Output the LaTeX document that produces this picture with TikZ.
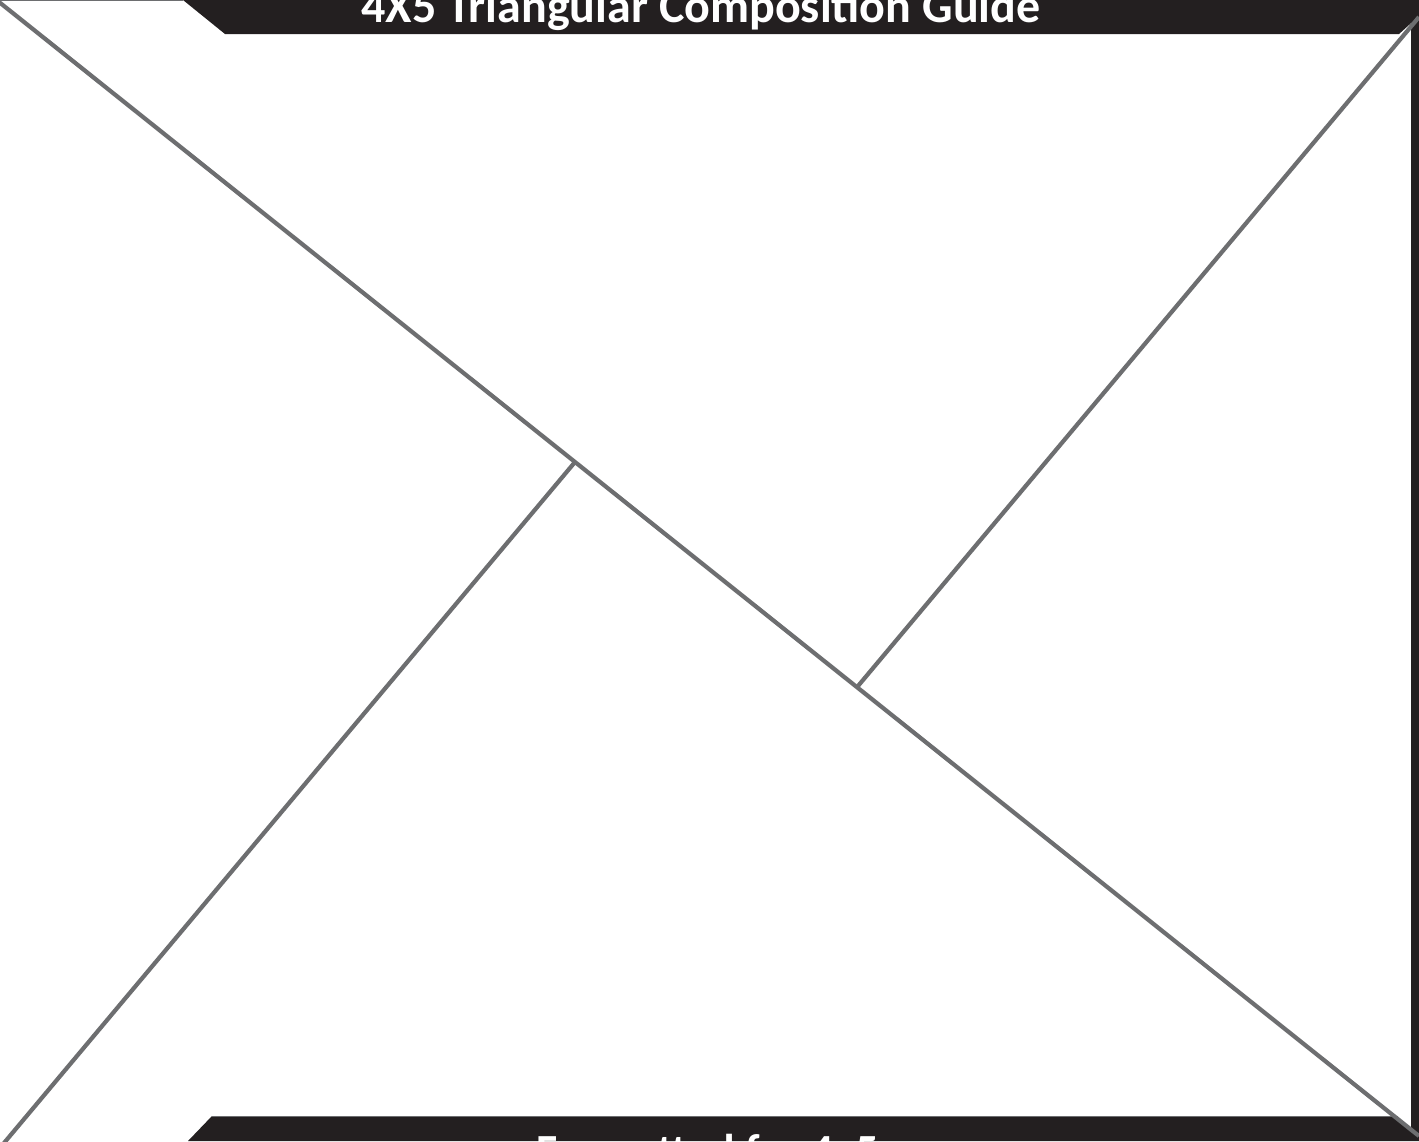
\documentclass[tikz,border=0pt]{standalone}
\usepackage{fontspec}
\setmainfont{Carlito}
\definecolor{bannerblack}{HTML}{231F20}
\definecolor{guidegray}{HTML}{6D6E70}
\begin{document}
\begin{tikzpicture}[x=1pt,y=-1pt,
  banner/.style={fill=bannerblack,draw=none},
  guide/.style={draw=guidegray,line width=4.2pt,line cap=butt},
  titletext/.style={text=white,font=\fontsize{48}{56}\selectfont\bfseries,inner sep=0pt},
  foottext/.style={text=white,font=\fontsize{46}{54}\selectfont\bfseries,inner sep=0pt}]
\useasboundingbox (0,0) rectangle (1419,1141);
\clip (0,0) rectangle (1419,1141);
\fill[white] (0,0) rectangle (1419,1141);
% frame pieces
\fill[banner] (183,0) -- (1419,0) -- (1419,16) -- (1399,34) -- (225,34) -- cycle;
\fill[banner] (1411,0) rectangle (1419,1141);
\fill[banner] (188,1141) -- (212,1116) -- (1397,1116) -- (1419,1136) -- (1419,1141) -- cycle;
\draw[guidegray,line width=0.8pt] (0,0.4) -- (183,0.4);
\draw[guidegray,line width=0.8pt] (212,1116) -- (1397,1116);
% guide coordinates
\coordinate (tl) at (-1,2);
\coordinate (br) at (1419,1136);
\coordinate (ja) at (575,462);
\coordinate (jb) at (858,686);
\coordinate (bl) at (4,1143);
\coordinate (tr) at (1419,17);
\draw[guide] (tl) -- (br);
\draw[guide] (ja) -- (bl);
\draw[guide] (jb) -- (tr);
% texts
\node[titletext,anchor=base] (title) at (701,22) {4X5 Triangular Composition Guide};
\node[foottext,anchor=base west] (foot) at (536,1166) {Formatted for 4x5};
\end{tikzpicture}
\end{document}
